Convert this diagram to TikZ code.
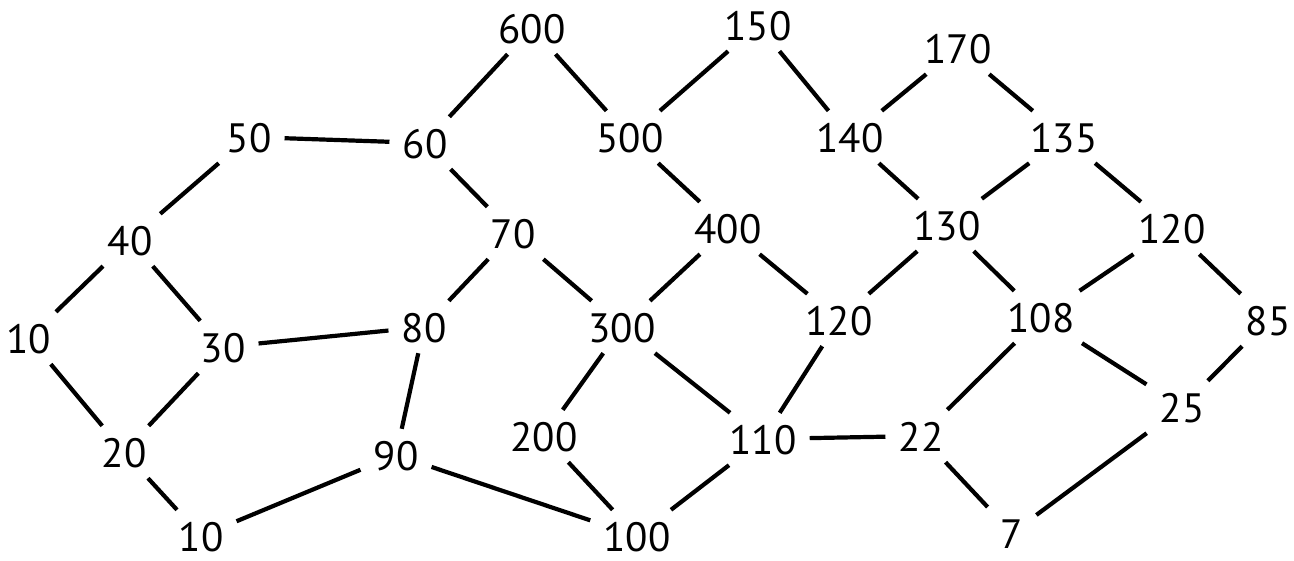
\documentclass[tikz,border=0pt]{standalone}
\usepackage{fontspec}
\setmainfont{PT Sans}
\begin{document}
\begin{tikzpicture}[x=1pt,y=-1pt,
  num/.style={rectangle,inner xsep=13pt,inner ysep=11pt,text height=30pt,text depth=0pt,
    font=\fontsize{41}{41}\selectfont},
  edge/.style={line width=4.2pt,black}]
\useasboundingbox (0,0) rectangle (1294,560);
\node[num] (n600) at (532,28) {600};
\node[num] (n150) at (758,25) {150};
\node[num] (n170) at (958,48) {170};
\node[num] (n50) at (249,137) {50};
\node[num] (n60) at (425,143) {60};
\node[num] (n500) at (630,137) {500};
\node[num] (n140) at (850,137) {140};
\node[num] (n135) at (1064,137) {135};
\node[num] (n40) at (130,240) {40};
\node[num] (n70) at (513,233) {70};
\node[num] (n400) at (728,228) {400};
\node[num] (n130) at (947,225) {130};
\node[num] (n120r) at (1172,228) {120};
\node[num] (n10l) at (29,338) {10};
\node[num] (n30) at (223,347) {30};
\node[num] (n80) at (424,327) {80};
\node[num] (n300) at (622,327) {300};
\node[num] (n120m) at (839,320) {120};
\node[num] (n108) at (1041,317) {108};
\node[num] (n85) at (1268,320) {85};
\node[num] (n20) at (124,452) {20};
\node[num] (n90) at (396,455) {90};
\node[num] (n200) at (544,436) {200};
\node[num] (n110) at (763,439) {110};
\node[num] (n22) at (921,436) {22};
\node[num] (n25) at (1182,407) {25};
\node[num] (n10b) at (201,536) {10};
\node[num] (n100) at (637,536) {100};
\node[num] (n7) at (1012,533) {7};
\foreach \a/\b in {n600/n60,n600/n500,n150/n500,n150/n140,n170/n140,n170/n135,
  n50/n60,n50/n40,n60/n70,n500/n400,n140/n130,n135/n130,n135/n120r,
  n40/n10l,n40/n30,n70/n80,n70/n300,n400/n300,n400/n120m,n130/n120m,n130/n108,
  n120r/n108,n120r/n85,n10l/n20,n30/n80,n30/n20,n80/n90,n300/n200,n300/n110,
  n120m/n110,n108/n22,n108/n25,n85/n25,n20/n10b,n90/n10b,n90/n100,n200/n100,
  n110/n100,n110/n22,n22/n7,n25/n7}
  \draw[edge] (\a) -- (\b);
\end{tikzpicture}
\end{document}
